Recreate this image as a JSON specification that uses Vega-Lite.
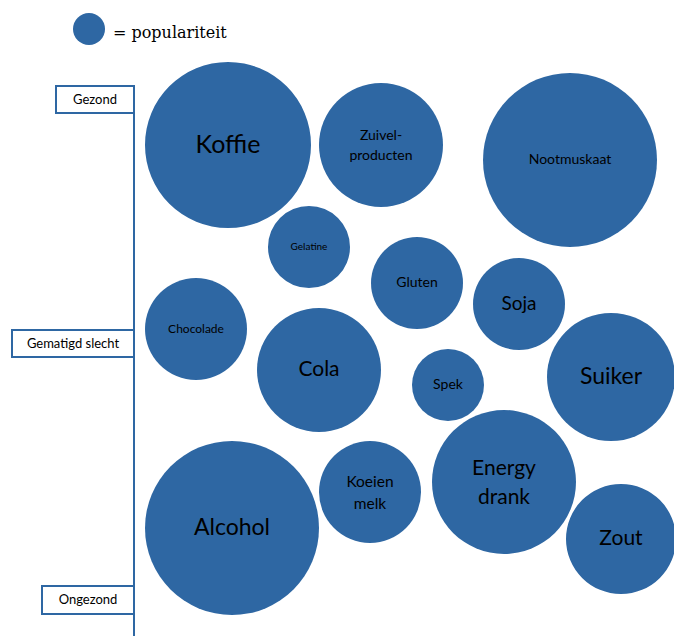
{
  "$schema": "https://vega.github.io/schema/vega-lite/v6.json",
  "width": 674,
  "height": 639,
  "padding": 0,
  "autosize": {"type": "none"},
  "background": "white",
  "config": {"view": {"stroke": null}},
  "datasets": {
    "bubbles": [
      {"item": "Koffie", "x": 228, "y": 145, "popularity": 83},
      {"item": "Zuivel-\nproducten", "x": 381, "y": 145, "popularity": 62},
      {"item": "Nootmuskaat", "x": 570, "y": 160, "popularity": 87},
      {"item": "Gelatine", "x": 309, "y": 247, "popularity": 41},
      {"item": "Gluten", "x": 417, "y": 283, "popularity": 46},
      {"item": "Soja", "x": 519, "y": 304, "popularity": 46},
      {"item": "Chocolade", "x": 196, "y": 329, "popularity": 51},
      {"item": "Cola", "x": 319, "y": 370, "popularity": 62},
      {"item": "Spek", "x": 448, "y": 385, "popularity": 36},
      {"item": "Suiker", "x": 611, "y": 377, "popularity": 64},
      {"item": "Alcohol", "x": 232, "y": 528, "popularity": 87},
      {"item": "Koeien\nmelk", "x": 370, "y": 492, "popularity": 51},
      {"item": "Energy\ndrank", "x": 504, "y": 482, "popularity": 72},
      {"item": "Zout", "x": 621, "y": 539, "popularity": 55}
    ],
    "levels": [
      {"level": "Gezond", "x1": 56, "x2": 134, "y1": 86, "y2": 113},
      {"level": "Gematigd slecht", "x1": 12, "x2": 134, "y1": 330, "y2": 357},
      {"level": "Ongezond", "x1": 42, "x2": 134, "y1": 586, "y2": 614}
    ],
    "legend": [{"label": "= populariteit", "x": 89, "y": 29, "popularity": 16}],
    "axisline": [{"x": 134, "y1": 90, "y2": 636}]
  },
  "encoding": {},
  "layer": [
    {
      "data": {"name": "axisline"},
      "mark": {"type": "rule", "color": "#2E67A3", "strokeWidth": 2},
      "encoding": {
        "x": {"field": "x", "type": "quantitative", "scale": {"domain": [0, 674]}, "axis": null},
        "y": {"field": "y1", "type": "quantitative", "scale": {"domain": [639, 0]}, "axis": null},
        "y2": {"field": "y2"}
      }
    },
    {
      "data": {"name": "levels"},
      "mark": {"type": "rect", "fill": "white", "stroke": "#2E67A3", "strokeWidth": 2},
      "encoding": {
        "x": {"field": "x1", "type": "quantitative", "scale": {"domain": [0, 674]}, "axis": null},
        "x2": {"field": "x2"},
        "y": {"field": "y1", "type": "quantitative", "scale": {"domain": [639, 0]}, "axis": null},
        "y2": {"field": "y2"}
      }
    },
    {
      "data": {"name": "levels"},
      "transform": [{"calculate": "(datum.x1 + datum.x2) / 2", "as": "xc"}, {"calculate": "(datum.y1 + datum.y2) / 2", "as": "yc"}],
      "mark": {"type": "text", "font": "Lato", "fontSize": 13, "color": "black", "align": "center", "baseline": "middle"},
      "encoding": {
        "x": {"field": "xc", "type": "quantitative", "scale": {"domain": [0, 674]}, "axis": null},
        "y": {"field": "yc", "type": "quantitative", "scale": {"domain": [639, 0]}, "axis": null},
        "text": {"field": "level"}
      }
    },
    {
      "data": {"name": "legend"},
      "mark": {"type": "point", "shape": "circle", "filled": true, "color": "#2E67A3", "opacity": 1},
      "encoding": {
        "x": {"field": "x", "type": "quantitative", "scale": {"domain": [0, 674]}, "axis": null},
        "y": {"field": "y", "type": "quantitative", "scale": {"domain": [639, 0]}, "axis": null},
        "size": {"field": "popularity", "type": "quantitative", "scale": {"type": "pow", "exponent": 2, "domain": [0, 100], "range": [0, 40000]}, "legend": null}
      }
    },
    {
      "data": {"name": "legend"},
      "mark": {"type": "text", "font": "DejaVu Serif", "fontSize": 16, "color": "black", "align": "left", "baseline": "middle", "dx": 24, "dy": 4},
      "encoding": {
        "x": {"field": "x", "type": "quantitative", "scale": {"domain": [0, 674]}, "axis": null},
        "y": {"field": "y", "type": "quantitative", "scale": {"domain": [639, 0]}, "axis": null},
        "text": {"field": "label"}
      }
    },
    {
      "data": {"name": "bubbles"},
      "mark": {"type": "point", "shape": "circle", "filled": true, "color": "#2E67A3", "opacity": 1},
      "encoding": {
        "x": {"field": "x", "type": "quantitative", "scale": {"domain": [0, 674]}, "axis": null},
        "y": {"field": "y", "type": "quantitative", "scale": {"domain": [639, 0]}, "axis": null},
        "size": {"field": "popularity", "type": "quantitative", "scale": {"type": "pow", "exponent": 2, "domain": [0, 100], "range": [0, 40000]}, "legend": null}
      }
    },
    {
      "data": {"name": "bubbles"},
      "transform": [{"filter": {"field": "item", "oneOf": ["Koffie"]}}],
      "mark": {"type": "text", "font": "Lato", "fontSize": 25, "color": "black", "align": "center", "baseline": "middle"},
      "encoding": {
        "x": {"field": "x", "type": "quantitative", "scale": {"domain": [0, 674]}, "axis": null},
        "y": {"field": "y", "type": "quantitative", "scale": {"domain": [639, 0]}, "axis": null},
        "text": {"field": "item"}
      }
    },
    {
      "data": {"name": "bubbles"},
      "transform": [{"filter": {"field": "item", "oneOf": ["Suiker", "Alcohol"]}}],
      "mark": {"type": "text", "font": "Lato", "fontSize": 23, "color": "black", "align": "center", "baseline": "middle"},
      "encoding": {
        "x": {"field": "x", "type": "quantitative", "scale": {"domain": [0, 674]}, "axis": null},
        "y": {"field": "y", "type": "quantitative", "scale": {"domain": [639, 0]}, "axis": null},
        "text": {"field": "item"}
      }
    },
    {
      "data": {"name": "bubbles"},
      "transform": [{"filter": {"field": "item", "oneOf": ["Cola", "Zout"]}}],
      "mark": {"type": "text", "font": "Lato", "fontSize": 21, "color": "black", "align": "center", "baseline": "middle"},
      "encoding": {
        "x": {"field": "x", "type": "quantitative", "scale": {"domain": [0, 674]}, "axis": null},
        "y": {"field": "y", "type": "quantitative", "scale": {"domain": [639, 0]}, "axis": null},
        "text": {"field": "item"}
      }
    },
    {
      "data": {"name": "bubbles"},
      "transform": [{"filter": {"field": "item", "oneOf": ["Energy\ndrank"]}}],
      "mark": {"type": "text", "font": "Lato", "fontSize": 21, "color": "black", "align": "center", "baseline": "middle", "lineBreak": "\n", "lineHeight": 29, "dy": -13},
      "encoding": {
        "x": {"field": "x", "type": "quantitative", "scale": {"domain": [0, 674]}, "axis": null},
        "y": {"field": "y", "type": "quantitative", "scale": {"domain": [639, 0]}, "axis": null},
        "text": {"field": "item"}
      }
    },
    {
      "data": {"name": "bubbles"},
      "transform": [{"filter": {"field": "item", "oneOf": ["Soja"]}}],
      "mark": {"type": "text", "font": "Lato", "fontSize": 19, "color": "black", "align": "center", "baseline": "middle"},
      "encoding": {
        "x": {"field": "x", "type": "quantitative", "scale": {"domain": [0, 674]}, "axis": null},
        "y": {"field": "y", "type": "quantitative", "scale": {"domain": [639, 0]}, "axis": null},
        "text": {"field": "item"}
      }
    },
    {
      "data": {"name": "bubbles"},
      "transform": [{"filter": {"field": "item", "oneOf": ["Koeien\nmelk"]}}],
      "mark": {"type": "text", "font": "Lato", "fontSize": 15.5, "color": "black", "align": "center", "baseline": "middle", "lineBreak": "\n", "lineHeight": 22, "dy": -10},
      "encoding": {
        "x": {"field": "x", "type": "quantitative", "scale": {"domain": [0, 674]}, "axis": null},
        "y": {"field": "y", "type": "quantitative", "scale": {"domain": [639, 0]}, "axis": null},
        "text": {"field": "item"}
      }
    },
    {
      "data": {"name": "bubbles"},
      "transform": [{"filter": {"field": "item", "oneOf": ["Nootmuskaat", "Gluten", "Spek"]}}],
      "mark": {"type": "text", "font": "Lato", "fontSize": 14, "color": "black", "align": "center", "baseline": "middle"},
      "encoding": {
        "x": {"field": "x", "type": "quantitative", "scale": {"domain": [0, 674]}, "axis": null},
        "y": {"field": "y", "type": "quantitative", "scale": {"domain": [639, 0]}, "axis": null},
        "text": {"field": "item"}
      }
    },
    {
      "data": {"name": "bubbles"},
      "transform": [{"filter": {"field": "item", "oneOf": ["Zuivel-\nproducten"]}}],
      "mark": {"type": "text", "font": "Lato", "fontSize": 14, "color": "black", "align": "center", "baseline": "middle", "lineBreak": "\n", "lineHeight": 20, "dy": -9},
      "encoding": {
        "x": {"field": "x", "type": "quantitative", "scale": {"domain": [0, 674]}, "axis": null},
        "y": {"field": "y", "type": "quantitative", "scale": {"domain": [639, 0]}, "axis": null},
        "text": {"field": "item"}
      }
    },
    {
      "data": {"name": "bubbles"},
      "transform": [{"filter": {"field": "item", "oneOf": ["Chocolade"]}}],
      "mark": {"type": "text", "font": "Lato", "fontSize": 12, "color": "black", "align": "center", "baseline": "middle"},
      "encoding": {
        "x": {"field": "x", "type": "quantitative", "scale": {"domain": [0, 674]}, "axis": null},
        "y": {"field": "y", "type": "quantitative", "scale": {"domain": [639, 0]}, "axis": null},
        "text": {"field": "item"}
      }
    },
    {
      "data": {"name": "bubbles"},
      "transform": [{"filter": {"field": "item", "oneOf": ["Gelatine"]}}],
      "mark": {"type": "text", "font": "Lato", "fontSize": 10, "color": "black", "align": "center", "baseline": "middle"},
      "encoding": {
        "x": {"field": "x", "type": "quantitative", "scale": {"domain": [0, 674]}, "axis": null},
        "y": {"field": "y", "type": "quantitative", "scale": {"domain": [639, 0]}, "axis": null},
        "text": {"field": "item"}
      }
    }
  ]
}
